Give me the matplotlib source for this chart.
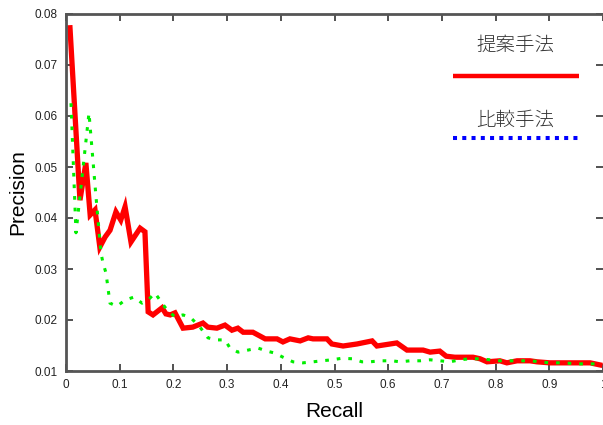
import matplotlib
matplotlib.use("Agg")
import matplotlib.pyplot as plt

plt.rcParams['font.family'] = ['Liberation Sans', 'DejaVu Sans']

# proposed method (red)
prop_x = [0.0074, 0.026, 0.037, 0.045, 0.054, 0.063, 0.073, 0.082, 0.093, 0.102,
          0.110, 0.121, 0.138, 0.147, 0.153, 0.162, 0.179, 0.186, 0.194, 0.203,
          0.218, 0.236, 0.255, 0.264, 0.281, 0.296, 0.309, 0.320, 0.330, 0.348,
          0.371, 0.393, 0.404, 0.417, 0.436, 0.451, 0.460, 0.486, 0.495, 0.516,
          0.542, 0.570, 0.579, 0.616, 0.635, 0.665, 0.678, 0.696, 0.708, 0.724,
          0.758, 0.771, 0.784, 0.808, 0.821, 0.840, 0.864, 0.877, 0.901, 0.926,
          0.952, 0.976, 0.994]
prop_y = [0.0773, 0.0435, 0.0508, 0.0406, 0.0416, 0.0343, 0.0363, 0.0376, 0.0412, 0.0396,
          0.0422, 0.0353, 0.0380, 0.0373, 0.0216, 0.0210, 0.0224, 0.0212, 0.0210, 0.0214,
          0.0184, 0.0186, 0.0194, 0.0186, 0.0184, 0.0190, 0.0180, 0.0184, 0.0176, 0.0176,
          0.0163, 0.0163, 0.0157, 0.0163, 0.0159, 0.0165, 0.0163, 0.0163, 0.0153, 0.0149,
          0.0153, 0.0159, 0.0149, 0.0155, 0.0141, 0.0141, 0.0137, 0.0139, 0.0129, 0.0127,
          0.0127, 0.0124, 0.0118, 0.0120, 0.0116, 0.0120, 0.0120, 0.0118, 0.0116, 0.0116,
          0.0116, 0.0116, 0.0112]

# baseline method (green dotted)
base_x = [0.0093, 0.0186, 0.0428, 0.0559, 0.0652, 0.0689, 0.0745, 0.0819, 0.0950, 0.1099,
          0.1266, 0.1415, 0.1527, 0.1657, 0.1788, 0.1881, 0.2030, 0.2179, 0.2328, 0.2495,
          0.2644, 0.2812, 0.2961, 0.3054, 0.3203, 0.3389, 0.3575, 0.3743, 0.3892, 0.4041,
          0.4227, 0.4413, 0.4600, 0.4767, 0.4953, 0.5140, 0.5326, 0.5512, 0.5661, 0.5847,
          0.6071, 0.6220, 0.6406, 0.6592, 0.6778, 0.6965, 0.7151, 0.7337, 0.7523, 0.7709,
          0.7896, 0.8082, 0.8268, 0.8454, 0.8641, 0.8827, 0.9013, 0.9255, 0.9516, 0.9702,
          0.9888]
base_y = [0.0625, 0.0371, 0.0606, 0.0441, 0.0331, 0.0312, 0.0292, 0.0233, 0.0227, 0.0239,
          0.0245, 0.0233, 0.0239, 0.0253, 0.0233, 0.0220, 0.0206, 0.0210, 0.0204, 0.0186,
          0.0165, 0.0161, 0.0161, 0.0145, 0.0137, 0.0141, 0.0145, 0.0139, 0.0135, 0.0127,
          0.0118, 0.0116, 0.0118, 0.0120, 0.0122, 0.0125, 0.0124, 0.0118, 0.0118, 0.0120,
          0.0120, 0.0118, 0.0120, 0.0120, 0.0122, 0.0120, 0.0118, 0.0122, 0.0124, 0.0124,
          0.0122, 0.0120, 0.0120, 0.0120, 0.0120, 0.0118, 0.0116, 0.0116, 0.0114, 0.0114,
          0.0114]

xticks = [0, 0.1, 0.2, 0.3, 0.4, 0.5, 0.6, 0.7, 0.8, 0.9, 1]
xtick_labels = ["0", "0.1", "0.2", "0.3", "0.4", "0.5", "0.6", "0.7", "0.8", "0.9", "1"]
yticks = [0.01, 0.02, 0.03, 0.04, 0.05, 0.06, 0.07, 0.08]
ytick_labels = ["0.01", "0.02", "0.03", "0.04", "0.05", "0.06", "0.07", "0.08"]

fig = plt.figure(figsize=(6.03, 4.25), dpi=100)
ax = fig.add_axes([66 / 603, 1 - 371 / 425, 537 / 603, 357 / 425])

ax.plot(prop_x, prop_y, color="#ff0000", lw=3.8, solid_joinstyle="miter", zorder=2)
ax.plot(base_x, base_y, color="#00ee00", lw=2.2, linestyle=(0, (1.2, 2.6)), zorder=3)

ax.set_xlim(0, 1)
ax.set_ylim(0.01, 0.08)
ax.set_xticks(xticks)
ax.set_xticklabels(xtick_labels)
ax.set_yticks(yticks)
ax.set_yticklabels(ytick_labels)
ax.tick_params(direction="in", length=5, width=1.2, color="#333333", labelcolor="#222222",
               top=True, right=True, labelsize=8.5, pad=6)

for side in ["left", "bottom", "top"]:
    ax.spines[side].set_color("#555555")
    ax.spines[side].set_linewidth(2)
ax.spines["right"].set_visible(False)

ax.set_xlabel("Recall", fontsize=15, labelpad=8)
ax.set_ylabel("Precision", fontsize=15, labelpad=5)

# key: label sits above its line sample
cjk = ["Noto Sans CJK JP", "DejaVu Sans"]
ax.text(0.836, 0.913, "提案手法", transform=ax.transAxes, ha="center", va="center",
        fontsize=14, family=cjk, weight="light", color="#333333")
ax.plot([0.721, 0.955], [0.826, 0.826], transform=ax.transAxes,
        color="#ff0000", lw=3.2, solid_capstyle="butt", clip_on=False)
ax.text(0.836, 0.703, "比較手法", transform=ax.transAxes, ha="center", va="center",
        fontsize=14, family=cjk, weight="light", color="#333333")
ax.plot([0.721, 0.955], [0.653, 0.653], transform=ax.transAxes,
        color="#0000ff", lw=2.9, linestyle=(0, (1, 1.3)), clip_on=False)

fig.savefig("out.png", dpi=100)
